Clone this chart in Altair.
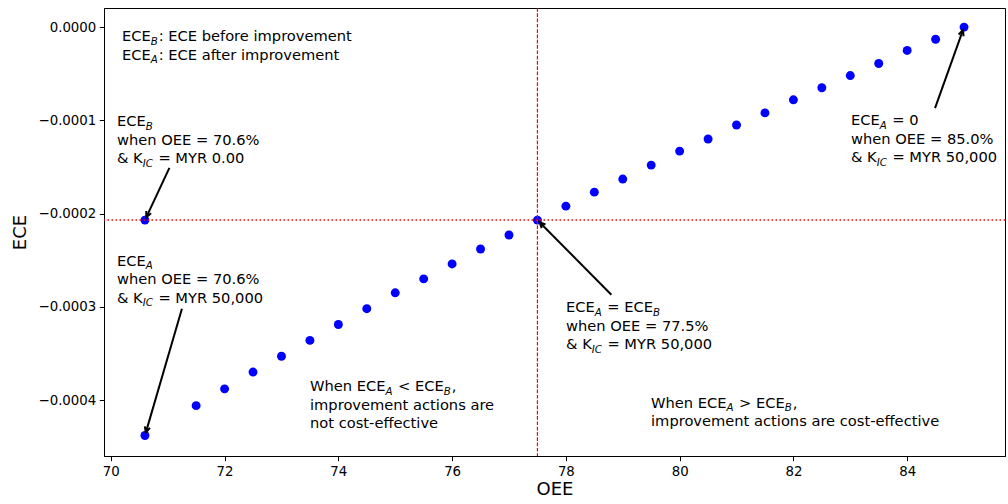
import re
import math
import pandas as pd
import altair as alt

# ---------------- data ----------------
oee = [70.6, 71.5, 72.0, 72.5, 73.0, 73.5, 74.0, 74.5, 75.0, 75.5, 76.0, 76.5,
       77.0, 77.5, 78.0, 78.5, 79.0, 79.5, 80.0, 80.5, 81.0, 81.5, 82.0, 82.5,
       83.0, 83.5, 84.0, 84.5, 85.0]
ece = [-0.000438, -0.000406, -0.000388, -0.000370, -0.000353, -0.000336,
       -0.000319, -0.000302, -0.000285, -0.000270, -0.000254, -0.000238,
       -0.000223, -0.000207, -0.000192, -0.000177, -0.000163, -0.000148,
       -0.000133, -0.000120, -0.000105, -0.000092, -0.000078, -0.000065,
       -0.000052, -0.000039, -0.000025, -0.000013, 0.0]
ece_b_oee = [70.6]
ece_b = [-0.000207]
oee_break_even = [77.5]

x_ticks = [70, 72, 74, 76, 78, 80, 82, 84]
y_ticks = [0.0, -0.0001, -0.0002, -0.0003, -0.0004]

note_x = [70.197, 70.109, 70.109, 78.003, 83.013, 73.502, 79.497]
note_y = [-0.0000149, -0.0001061, -0.0002562, -0.0003056, -0.0001050, -0.0003903, -0.0004085]
note_lines = [
    ["ECE_{B}: ECE before improvement", "ECE_{A}: ECE after improvement"],
    ["ECE_{B}", "when OEE = 70.6%", "& K_{IC} = MYR 0.00"],
    ["ECE_{A}", "when OEE = 70.6%", "& K_{IC} = MYR 50,000"],
    ["ECE_{A} = ECE_{B}", "when OEE = 77.5%", "& K_{IC} = MYR 50,000"],
    ["ECE_{A} = 0", "when OEE = 85.0%", "& K_{IC} = MYR 50,000"],
    ["When ECE_{A} < ECE_{B},", "improvement actions are", "not cost-effective"],
    ["When ECE_{A} > ECE_{B},", "improvement actions are cost-effective"],
]

arrow_tail_x = [71.03, 71.25, 78.80, 84.49]
arrow_tail_y = [-0.000151, -0.000302, -0.000287, -0.0000868]
arrow_head_x = [70.6, 70.6, 77.5, 85.0]
arrow_head_y = [-0.000207, -0.000438, -0.000207, 0.0]

# ---------------- layout ----------------
XMIN, XMAX = 69.88, 85.72
YMIN, YMAX = -0.00046, 0.0000205
PW, PH = 901, 448
PX_X = (XMAX - XMIN) / PW
PX_Y = (YMAX - YMIN) / PH
FONT = "DejaVu Sans"
FS = 14.67
FS_SUB = FS * 0.7
LINE = 18.5
SUB_DY = 3.5

# DejaVu Sans advance widths (units of 1/2048 em)
ADV = {"E": 1294, "C": 1430, "&": 1597, " ": 651, "K": 1343, "W": 2025, "h": 1298,
       "e": 1260, "n": 1298, "<": 1716, ">": 1716, "=": 1716, "A": 1401, "B": 1405,
       "I": 604, ",": 651, "0": 1303}


def text_width(s, size):
    return sum(ADV.get(c, 1250) for c in s) / 2048.0 * size


rows = []
for ax, ay, lines in zip(note_x, note_y, note_lines):
    for i, line in enumerate(lines):
        parts = re.split(r"_\{(.*?)\}", line)
        off = 0.0
        for j, part in enumerate(parts):
            if not part:
                continue
            sub = (j % 2 == 1)
            size = FS_SUB if sub else FS
            stripped = part.lstrip(" ")
            lead = text_width(part[:len(part) - len(stripped)], size)
            rows.append({"x": ax + (off + lead) * PX_X, "y": ay - i * LINE * PX_Y,
                         "t": stripped, "sub": sub})
            off += text_width(part, size) + (0.8 if sub else 0.0)
txt = pd.DataFrame(rows)
txt_norm = txt[~txt["sub"]]
txt_sub = txt[txt["sub"]]

arows = []
for tx, ty, hx, hy in zip(arrow_tail_x, arrow_tail_y, arrow_head_x, arrow_head_y):
    dxp = (hx - tx) / PX_X
    dyp = -(hy - ty) / PX_Y
    L = math.hypot(dxp, dyp)
    ux, uy = dxp / L, dyp / L
    shrink = 3.0
    tipx = hx - shrink * ux * PX_X
    tipy = hy + shrink * uy * PX_Y
    ang = math.degrees(math.atan2(ux, -uy)) % 360
    arows.append({"x": tx, "y": ty, "x2": tipx, "y2": tipy, "ang": ang})
arr = pd.DataFrame(arows)

pts = pd.DataFrame({"OEE": oee, "ECE": ece})
pts_b = pd.DataFrame({"OEE": ece_b_oee, "ECE": ece_b})

xs = alt.Scale(domain=[XMIN, XMAX], nice=False, zero=False)
ys = alt.Scale(domain=[YMIN, YMAX], nice=False, zero=False)

x_axis = alt.Axis(values=x_ticks, format="d", title="OEE", grid=False)
y_axis = alt.Axis(values=y_ticks, format=".4f", title="ECE", grid=False)

base_pts = alt.Chart(pd.concat([pts, pts_b])).mark_circle(
    size=80, color="#0000ff", opacity=1
).encode(
    x=alt.X("OEE:Q", scale=xs, axis=x_axis),
    y=alt.Y("ECE:Q", scale=ys, axis=y_axis),
)

hline = alt.Chart(pts_b).mark_rule(
    color="#ff0000", strokeWidth=1.5, strokeDash=[1.5, 2.5]
).encode(y=alt.Y("ECE:Q", scale=ys))

vline = alt.Chart(pd.DataFrame({"OEE": oee_break_even})).mark_rule(
    color="#ff0000", strokeWidth=1.2, strokeDash=[3.7, 1.6]
).encode(x=alt.X("OEE:Q", scale=xs))

arrow_lines = alt.Chart(arr).mark_rule(color="black", strokeWidth=2).encode(
    x=alt.X("x:Q", scale=xs), y=alt.Y("y:Q", scale=ys),
    x2="x2:Q", y2="y2:Q",
)
arrow_heads = alt.Chart(arr).mark_point(
    shape="M-0.5,1.1L0,0L0.5,1.1", filled=False, stroke="black",
    strokeWidth=2, size=110, opacity=1
).encode(
    x=alt.X("x2:Q", scale=xs), y=alt.Y("y2:Q", scale=ys),
    angle=alt.Angle("ang:Q", scale=None),
)

text_main = alt.Chart(txt_norm).mark_text(
    align="left", baseline="alphabetic", font=FONT, fontSize=FS, color="black"
).encode(x=alt.X("x:Q", scale=xs), y=alt.Y("y:Q", scale=ys), text="t:N")

text_sub = alt.Chart(txt_sub).mark_text(
    align="left", baseline="alphabetic", font=FONT, fontSize=FS_SUB,
    fontStyle="italic", color="black", dy=SUB_DY
).encode(x=alt.X("x:Q", scale=xs), y=alt.Y("y:Q", scale=ys), text="t:N")

chart = alt.layer(
    base_pts, hline, vline, arrow_lines, arrow_heads, text_main, text_sub
).properties(
    width=PW, height=PH,
    padding={"left": 104, "top": 8, "right": 3, "bottom": 48},
    autosize=alt.AutoSizeParams(type="none"),
).configure_view(
    stroke="black", strokeWidth=1
).configure_axis(
    domainColor="black", domainWidth=1, tickColor="black", tickWidth=1,
    tickSize=4.7, labelPadding=3.5, labelColor="black", labelFont=FONT,
    labelFontSize=13.33, titleFont=FONT, titleFontSize=18, titleFontWeight="normal",
    titleColor="black", labelFlush=False, labelOverlap=False,
).configure_axisX(
    titlePadding=3,
).configure_axisY(
    titlePadding=8,
)

chart.save("out.html", embed_options={"renderer": "svg", "actions": False})
